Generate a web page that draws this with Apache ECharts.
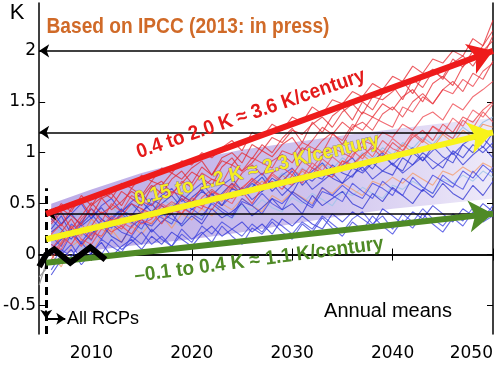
<!DOCTYPE html>
<html><head><meta charset="utf-8">
<script src="https://cdn.jsdelivr.net/npm/echarts@6/dist/echarts.min.js"></script>
<style>html,body{margin:0;padding:0;background:#fff}#c{width:500px;height:368px}</style>
</head><body><div id="c"></div>
<script>
const startYear = 2006;
const xTicks = [2010, 2020, 2030, 2040, 2050];
const yTicks = [-0.5, 0, 0.5, 1, 1.5, 2];

const red1 = [0.30,0.42,0.25,0.38,0.51,0.40,0.47,0.62,0.55,0.48,0.66,0.72,0.60,0.70,0.81,0.75,0.68,0.86,0.95,0.82,0.90,1.02,0.96,1.08,1.15,1.01,1.12,1.25,1.18,1.30,1.22,1.40,1.35,1.48,1.42,1.55,1.62,1.50,1.68,1.75,1.66,1.85,1.92,2.05,2.20];
const red2 = [0.15,0.22,0.35,0.20,0.28,0.42,0.33,0.38,0.50,0.45,0.40,0.55,0.62,0.58,0.51,0.66,0.74,0.70,0.65,0.80,0.88,0.78,0.92,0.98,0.90,1.05,1.00,1.12,1.20,1.08,1.25,1.30,1.22,1.38,1.45,1.35,1.50,1.58,1.48,1.62,1.70,1.60,1.78,1.72,1.90];
const red3 = [0.05,0.18,0.10,0.25,0.15,0.30,0.22,0.28,0.20,0.35,0.42,0.30,0.45,0.40,0.52,0.48,0.44,0.58,0.55,0.62,0.50,0.66,0.72,0.64,0.78,0.70,0.85,0.80,0.76,0.92,0.88,0.98,1.05,0.95,1.10,1.02,1.15,1.22,1.12,1.28,1.20,1.35,1.30,1.42,1.50];
const red4 = [0.40,0.28,0.45,0.52,0.38,0.55,0.60,0.48,0.65,0.58,0.72,0.68,0.80,0.74,0.85,0.92,0.78,0.95,1.00,0.90,1.08,1.02,1.15,1.10,1.22,1.18,1.28,1.35,1.25,1.40,1.48,1.38,1.55,1.52,1.60,1.70,1.58,1.75,1.82,1.72,1.88,1.95,1.85,2.00,2.10];
const red5 = [-0.05,0.10,0.20,0.08,0.22,0.18,0.32,0.25,0.38,0.30,0.35,0.48,0.40,0.55,0.50,0.45,0.62,0.58,0.70,0.64,0.75,0.68,0.80,0.86,0.78,0.92,0.85,0.98,1.05,1.00,0.95,1.12,1.08,1.20,1.15,1.28,1.22,1.35,1.40,1.32,1.48,1.42,1.55,1.62,1.70];
const red6 = [0.35,0.50,0.42,0.58,0.48,0.62,0.55,0.70,0.65,0.78,0.72,0.85,0.80,0.92,0.88,1.00,0.95,1.05,1.12,1.02,1.20,1.15,1.28,1.22,1.35,1.30,1.45,1.38,1.52,1.48,1.60,1.55,1.68,1.62,1.75,1.70,1.85,1.78,1.92,1.88,2.00,1.95,2.12,2.05,2.30];
const red7 = [0.20,0.30,0.18,0.35,0.45,0.32,0.50,0.42,0.58,0.52,0.48,0.65,0.58,0.72,0.66,0.80,0.74,0.70,0.88,0.82,0.95,0.90,0.85,1.02,0.98,1.10,1.05,1.00,1.18,1.12,1.28,1.22,1.35,1.30,1.25,1.45,1.40,1.55,1.48,1.62,1.58,1.72,1.65,1.80,1.88];
const red8 = [0.10,0.05,0.22,0.30,0.18,0.28,0.38,0.32,0.26,0.42,0.36,0.50,0.44,0.40,0.56,0.50,0.62,0.55,0.68,0.60,0.72,0.66,0.78,0.70,0.84,0.76,0.90,0.82,0.96,0.88,1.02,0.94,1.08,1.00,1.14,1.06,1.20,1.12,1.26,1.18,1.34,1.26,1.42,1.35,1.48];
const red9 = [0.32,0.45,0.38,0.30,0.48,0.56,0.44,0.52,0.62,0.56,0.68,0.60,0.74,0.82,0.70,0.86,0.78,0.92,0.88,1.00,0.94,1.08,1.00,1.14,1.24,1.10,1.30,1.20,1.36,1.44,1.32,1.50,1.42,1.58,1.66,1.52,1.72,1.64,1.80,1.74,1.92,1.84,2.00,1.94,2.15];
const red10 = [0.00,0.12,0.28,0.15,0.10,0.25,0.35,0.28,0.40,0.34,0.30,0.44,0.52,0.46,0.40,0.56,0.64,0.56,0.50,0.66,0.74,0.64,0.80,0.72,0.68,0.84,0.78,0.94,0.86,0.82,0.98,1.06,0.96,1.12,1.04,1.00,1.18,1.10,1.26,1.20,1.14,1.32,1.24,1.40,1.30];
const blue1 = [-0.20,-0.05,0.05,-0.10,0.02,0.12,-0.02,0.08,0.15,0.05,0.18,0.10,0.22,0.15,0.08,0.20,0.28,0.18,0.25,0.32,0.22,0.30,0.20,0.35,0.28,0.38,0.30,0.25,0.40,0.32,0.42,0.35,0.28,0.45,0.38,0.30,0.42,0.35,0.48,0.40,0.32,0.45,0.38,0.50,0.42];
const blue2 = [0.10,0.02,0.20,0.12,0.25,0.15,0.30,0.22,0.18,0.32,0.28,0.40,0.35,0.30,0.45,0.38,0.50,0.42,0.36,0.52,0.48,0.40,0.55,0.50,0.60,0.52,0.46,0.62,0.58,0.68,0.60,0.55,0.70,0.65,0.58,0.75,0.68,0.62,0.78,0.72,0.66,0.82,0.75,0.88,0.80];
const blue3 = [0.25,0.38,0.20,0.32,0.45,0.35,0.28,0.42,0.50,0.40,0.55,0.48,0.42,0.58,0.52,0.62,0.55,0.48,0.65,0.60,0.70,0.62,0.75,0.68,0.60,0.78,0.72,0.82,0.75,0.70,0.85,0.80,0.90,0.82,0.78,0.95,0.88,1.00,0.92,0.85,1.02,0.95,1.08,1.00,1.10];
const blue4 = [-0.10,0.05,-0.02,0.12,0.00,0.15,0.08,0.02,0.18,0.10,0.25,0.15,0.08,0.20,0.12,0.28,0.20,0.32,0.25,0.18,0.30,0.22,0.35,0.28,0.20,0.32,0.25,0.38,0.30,0.22,0.35,0.42,0.30,0.38,0.25,0.40,0.32,0.45,0.35,0.28,0.40,0.33,0.46,0.36,0.48];
const blue5 = [0.45,0.30,0.40,0.50,0.35,0.48,0.55,0.42,0.52,0.60,0.48,0.58,0.65,0.52,0.62,0.70,0.58,0.68,0.75,0.62,0.72,0.80,0.68,0.78,0.85,0.72,0.82,0.90,0.78,0.88,0.95,0.82,0.92,1.00,0.88,0.98,1.05,0.92,1.02,1.10,0.98,1.08,1.15,1.05,1.20];
const blue6 = [0.05,0.15,0.25,0.10,0.20,0.30,0.18,0.12,0.28,0.35,0.22,0.32,0.40,0.28,0.38,0.30,0.45,0.36,0.42,0.50,0.38,0.46,0.55,0.44,0.50,0.40,0.58,0.48,0.55,0.62,0.50,0.45,0.60,0.52,0.66,0.58,0.50,0.64,0.56,0.70,0.60,0.54,0.68,0.58,0.72];
const blue7 = [0.18,0.08,0.30,0.22,0.14,0.35,0.26,0.40,0.32,0.25,0.42,0.36,0.30,0.48,0.40,0.34,0.52,0.45,0.38,0.55,0.48,0.60,0.50,0.44,0.62,0.55,0.48,0.66,0.58,0.52,0.70,0.62,0.55,0.72,0.64,0.58,0.76,0.66,0.60,0.78,0.70,0.64,0.82,0.72,0.86];
const blue8 = [0.35,0.25,0.15,0.30,0.40,0.28,0.36,0.45,0.32,0.42,0.50,0.38,0.46,0.55,0.44,0.52,0.60,0.48,0.58,0.66,0.54,0.62,0.70,0.58,0.68,0.76,0.64,0.72,0.80,0.70,0.78,0.86,0.74,0.82,0.90,0.80,0.88,0.96,0.84,0.92,1.00,0.88,0.98,1.06,0.95];
const blue9 = [-0.15,0.00,0.10,-0.05,0.08,0.00,0.15,0.05,0.12,0.22,0.10,0.18,0.08,0.25,0.15,0.22,0.12,0.28,0.18,0.10,0.26,0.20,0.32,0.22,0.15,0.30,0.22,0.36,0.26,0.18,0.32,0.24,0.38,0.28,0.20,0.34,0.26,0.40,0.30,0.22,0.36,0.28,0.42,0.32,0.38];
const blue10 = [0.22,0.30,0.40,0.28,0.36,0.46,0.34,0.44,0.38,0.52,0.42,0.50,0.58,0.46,0.56,0.64,0.52,0.60,0.70,0.58,0.66,0.76,0.62,0.72,0.82,0.68,0.78,0.74,0.88,0.80,0.76,0.92,0.84,0.98,0.88,0.82,1.00,0.92,1.06,0.96,0.90,1.08,1.00,1.14,1.04];
const orange1 = [0.20,0.10,0.28,0.18,0.35,0.25,0.20,0.38,0.30,0.45,0.36,0.42,0.50,0.40,0.55,0.48,0.60,0.52,0.66,0.58,0.62,0.72,0.65,0.78,0.70,0.82,0.75,0.88,0.80,0.92,0.85,0.98,0.90,1.02,0.95,1.08,1.00,1.12,1.05,1.18,1.10,1.22,1.15,1.28,1.25];
const orange2 = [0.00,-0.12,0.08,0.15,0.02,0.18,0.25,0.12,0.28,0.20,0.32,0.38,0.26,0.40,0.34,0.45,0.38,0.50,0.44,0.55,0.48,0.42,0.58,0.52,0.62,0.56,0.50,0.65,0.60,0.70,0.64,0.58,0.72,0.68,0.76,0.70,0.80,0.74,0.68,0.82,0.78,0.86,0.80,0.90,0.85];
const lblue1 = [0.30,0.22,0.35,0.42,0.30,0.40,0.48,0.36,0.45,0.52,0.42,0.55,0.48,0.60,0.54,0.50,0.64,0.58,0.70,0.62,0.68,0.76,0.70,0.80,0.74,0.85,0.78,0.90,0.84,0.95,0.88,1.00,0.94,1.05,0.98,1.10,1.04,1.15,1.08,1.20,1.14,1.25,1.18,1.30,1.35];
const lblue2 = [0.12,0.25,0.15,0.05,0.20,0.28,0.15,0.25,0.35,0.24,0.30,0.40,0.32,0.28,0.42,0.36,0.46,0.40,0.35,0.48,0.44,0.54,0.46,0.42,0.56,0.50,0.60,0.54,0.48,0.62,0.58,0.66,0.60,0.55,0.68,0.64,0.72,0.66,0.60,0.74,0.70,0.78,0.72,0.82,0.76];

// dense core of the ensemble (purple haze)
const bandYears = [2006, 2010, 2015, 2020, 2025, 2030, 2035, 2040, 2045, 2050];
const bandLow   = [0.00, 0.04, 0.10, 0.15, 0.22, 0.30, 0.38, 0.45, 0.50, 0.55];
const bandHigh  = [0.50, 0.64, 0.80, 0.93, 1.03, 1.10, 1.17, 1.23, 1.29, 1.34];

const obsYears = [2004.8, 2005.5, 2006.3, 2007.9, 2009.9, 2011.4];
const obsVals  = [-0.12, 0.00, 0.05, -0.08, 0.07, -0.05];
const histA = [[2004.8,-0.30],[2005.5,-0.08]];
const histB = [[2004.8,-0.22],[2005.5,-0.14]];

// trend arrows: [startYear, startK, endYear, endK]
const arrowRed    = [2005.5, 0.40, 2050, 2.0];
const arrowYellow = [2005.5, 0.15, 2050, 1.2];
const arrowGreen  = [2005.5, -0.08, 2050, 0.4];
const refLevels = [2.0, 1.2, 0.4];
const rcpStart = 2005.5;

const spaghetti = [
  [lblue1,'#8ab8e6'],[lblue2,'#9cc4ea'],[orange1,'#f2874f'],[orange2,'#f49a6a'],
  [blue1,'#2a2fd8'],[blue2,'#3a3ee0'],[blue3,'#2f35d4'],[blue4,'#3c44e2'],[blue5,'#3a40dc'],
  [blue6,'#2b30d0'],[blue7,'#4046e0'],[blue8,'#3238d6'],[blue9,'#3a3fe0'],[blue10,'#2c34d2'],
  [red1,'#e8262e'],[red2,'#e43038'],[red3,'#ea3a40'],[red4,'#e22830'],[red5,'#ee4048'],
  [red6,'#e6242c'],[red7,'#ec3a44'],[red8,'#f0505a'],[red9,'#e42a32'],[red10,'#ee4a50']
];

const chart = echarts.init(document.getElementById('c'), null, {renderer:'canvas'});
const series = [];
series.push({type:'custom', silent:true, z:1, data:[0],
  renderItem:(params, api) => {
    const pts = [];
    bandYears.forEach((y,i)=>pts.push(api.coord([y, bandHigh[i]])));
    for (let i = bandYears.length-1; i >= 0; i--) pts.push(api.coord([bandYears[i], bandLow[i]]));
    return {type:'polygon', shape:{points:pts}, style:{fill:{type:'linear', x:0, y:0, x2:1, y2:0,
      colorStops:[{offset:0, color:'rgba(115,80,205,0.48)'},{offset:0.6, color:'rgba(115,80,205,0.34)'},{offset:1, color:'rgba(115,80,205,0.12)'}]}}};
  }});
spaghetti.forEach(([arr,col]) => {
  series.push({type:'line', symbol:'none', silent:true, z:2,
    lineStyle:{color:col, width:1.1, opacity:0.75},
    data: arr.map((v,i)=>[startYear+i, v])});
});
[histA, histB].forEach(d => series.push({type:'line', symbol:'none', silent:true, z:2,
  lineStyle:{color:'#9a9a9a', width:1.2}, data:d}));

series.push({type:'line', data:[], z:4, markLine:{silent:true, symbol:['none','arrow'], symbolSize:10,
  label:{show:false}, lineStyle:{color:'#000', width:1.6, type:'solid'},
  data:[
    [{coord:[2050, refLevels[0]]},{coord:[2004.8, refLevels[0]]}],
    [{coord:[2050, refLevels[1]]},{coord:[2004.8, refLevels[1]]}],
    [{coord:[2050, refLevels[2]]},{coord:[rcpStart, refLevels[2]]}]
  ]}});
series.push({type:'line', data:[], z:4, markLine:{silent:true, symbol:['none','none'],
  label:{show:false}, lineStyle:{color:'#000', width:3, type:[8,5]},
  data:[[{coord:[rcpStart,-0.78]},{coord:[rcpStart,0.65]}]]}});
series.push({type:'line', data:[], z:4, markLine:{silent:true, symbol:['none','arrow'], symbolSize:9,
  label:{show:false}, lineStyle:{color:'#000', width:2, type:'solid'},
  data:[[{coord:[rcpStart,-0.63]},{coord:[2007.4,-0.63]}],
        [{coord:[rcpStart,-0.55]},{coord:[rcpStart,-0.63]}]]}});
series.push({type:'line', symbol:'none', silent:true, z:5,
  lineStyle:{color:'#000', width:6, join:'miter'},
  data: obsYears.map((y,i)=>[y, obsVals[i]])});

function arrowSeries(a, col, z){
  return {type:'line', data:[], z:z, markLine:{silent:true, symbol:['none','arrow'], symbolSize:24,
    label:{show:false}, lineStyle:{color:col, width:6, type:'solid'},
    data:[[{coord:[a[0],a[1]]},{coord:[a[2],a[3]]}]]}};
}
series.push(arrowSeries(arrowGreen,'#4f8a26',6));
series.push(arrowSeries(arrowYellow,'#f8f31a',6));
series.push(arrowSeries(arrowRed,'#ee1b1b',6));

const tickFont = {fontFamily:'DejaVu Sans', fontSize:17, color:'#000'};
const bold = 'Liberation Sans';
const fmt = v => String(v);

chart.setOption({
  animation:false,
  backgroundColor:'#ffffff',
  grid:{left:33, right:7, top:3, bottom:34, containLabel:false},
  xAxis:[
    {type:'value', min:2004.8, max:2050, position:'bottom',
     axisLine:{show:true, lineStyle:{color:'#000', width:1.5}},
     axisTick:{show:true, inside:true, length:6, customValues:xTicks, lineStyle:{color:'#000'}},
     axisLabel:Object.assign({show:true, customValues:xTicks, margin:11, alignMaxLabel:'right', formatter:fmt}, tickFont),
     splitLine:{show:false}},
    {type:'value', min:2004.8, max:2050, position:'top',
     axisLine:{show:true, lineStyle:{color:'#000', width:1.5}},
     axisTick:{show:true, inside:true, length:6, customValues:xTicks, lineStyle:{color:'#000'}},
     axisLabel:{show:false}, splitLine:{show:false}}
  ],
  yAxis:[
    {type:'value', min:-0.78, max:2.47, position:'left',
     axisLine:{show:true, lineStyle:{color:'#000', width:1.5}},
     axisTick:{show:true, inside:true, length:6, customValues:yTicks, lineStyle:{color:'#000'}},
     axisLabel:Object.assign({show:true, customValues:yTicks, margin:3, formatter:fmt}, tickFont),
     splitLine:{show:false}},
    {type:'value', min:-0.78, max:2.47, position:'right',
     axisLine:{show:true, lineStyle:{color:'#000', width:1.5}},
     axisTick:{show:true, inside:true, length:6, customValues:yTicks, lineStyle:{color:'#000'}},
     axisLabel:{show:false}, splitLine:{show:false}}
  ],
  graphic:[
    {type:'text', x:17, y:13, z:100, style:{text:'K', fontFamily:'Liberation Sans', fontSize:22, fill:'#000', align:'center', verticalAlign:'middle'}},
    {type:'text', x:188, y:27, scaleX:0.87, z:100, style:{text:'Based on IPCC (2013: in press)', fontFamily:bold, fontWeight:'bold', fontSize:22, fill:'#d06a28', align:'center', verticalAlign:'middle'}},
    {type:'text', x:251, y:114, rotation:0.33, scaleX:0.95, z:100, style:{text:'0.4 to 2.0 K \u2248 3.6 K/century', fontFamily:bold, fontWeight:'bold', fontSize:20, fill:'#e41a1a', align:'center', verticalAlign:'middle'}},
    {type:'text', x:257, y:170, rotation:0.24, scaleX:0.95, z:100, style:{text:'0.15 to 1.2 K \u2248 2.3 K/century', fontFamily:bold, fontWeight:'bold', fontSize:20, fill:'#f6ee20', stroke:'rgba(90,70,110,0.5)', lineWidth:1, align:'center', verticalAlign:'middle'}},
    {type:'text', x:259, y:260, rotation:0.13, scaleX:0.95, z:100, style:{text:'\u20130.1 to 0.4 K \u2248 1.1 K/century', fontFamily:bold, fontWeight:'bold', fontSize:20, fill:'#4f8a26', align:'center', verticalAlign:'middle'}},
    {type:'text', x:388, y:311, z:100, style:{text:'Annual means', fontFamily:'Liberation Sans', fontSize:20, fill:'#000', align:'center', verticalAlign:'middle'}},
    {type:'text', x:67, y:319, z:100, style:{text:'All RCPs', fontFamily:'Liberation Sans', fontSize:18, fill:'#000', align:'left', verticalAlign:'middle'}}
  ],
  series: series
});
</script></body></html>
